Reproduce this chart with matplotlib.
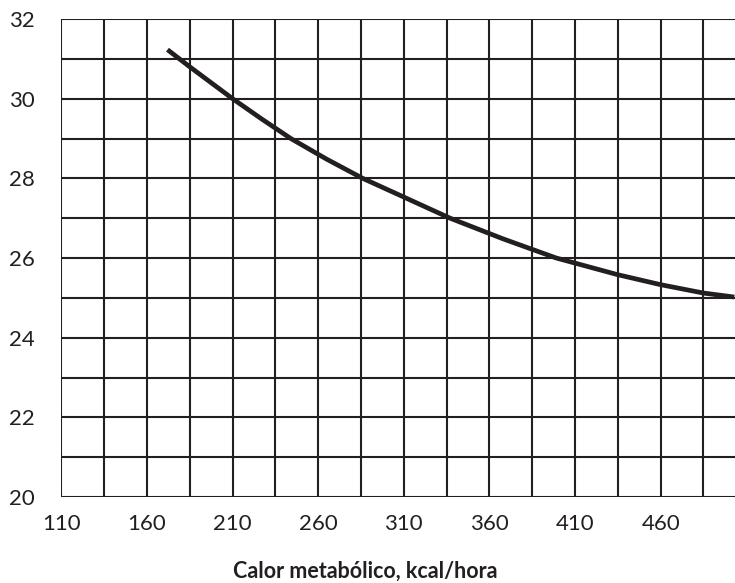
import numpy as np
import matplotlib.pyplot as plt

# Curve (metabolic heat vs temperature)
calor = [172, 185, 210, 227, 244, 265, 286, 310, 337, 368, 399, 435, 460, 485, 503]
temp = [31.23, 30.8, 30.0, 29.49, 29.0, 28.48, 28.0, 27.53, 27.0, 26.48, 26.0,
        25.58, 25.33, 25.12, 25.02]

x_ticks = [110, 160, 210, 260, 310, 360, 410, 460]
y_ticks = [20, 22, 24, 26, 28, 30, 32]
x_label = 'Calor metabólico, kcal/hora'

ink = '#231f20'
plt.rcParams['font.family'] = ['Lato', 'DejaVu Sans']

fig = plt.figure(figsize=(7.35, 5.83), dpi=100)
ax = fig.add_axes([61.3 / 735, 86 / 583, 1 - 61.3 / 735, (497 - 19) / 583])

# grid drawn as lines every 25 kcal and every 1 degree
for gx in np.arange(110, 504, 25):
    ax.axvline(gx, color=ink, lw=1.5, zorder=1)
for gy in np.arange(20, 33, 1):
    ax.axhline(gy, color=ink, lw=1.5, zorder=1)

ax.plot(calor, temp, color=ink, lw=3.4, solid_capstyle='butt',
        solid_joinstyle='round', zorder=3)

ax.set_xlim(110, 503.4)
ax.set_ylim(20, 32)
ax.set_xticks(x_ticks)
ax.set_yticks(y_ticks)
ax.tick_params(length=0, labelsize=16, colors=ink)
ax.tick_params(axis='x', pad=12)
ax.tick_params(axis='y', pad=38)
for lbl in ax.get_yticklabels():
    lbl.set_horizontalalignment('left')
for s in ax.spines.values():
    s.set_visible(False)

fig.text(365 / 735, 1 - 571 / 583, x_label, ha='center', va='center',
         fontsize=15.5, fontweight='bold', color=ink)

fig.savefig('out.png', dpi=100)
